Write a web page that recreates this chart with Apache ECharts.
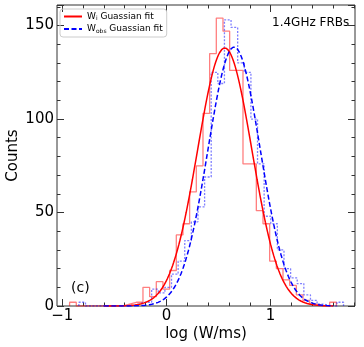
<!DOCTYPE html>
<html>
<head>
<meta charset="utf-8">
<title></title>
<script src="https://cdn.jsdelivr.net/npm/echarts@6/dist/echarts.min.js"></script>
<style>
  html, body { margin: 0; padding: 0; background: #fff; }
  #main { width: 364px; height: 347px; }
</style>
</head>
<body>
<div id="main"></div>
<script>
// W_i histogram: 40 bins of equal width starting at wiStart
var wiStart = -0.929, wiWidth = 0.064;
var wiCounts = [2, 0, 0, 0, 0, 0, 0, 0, 1, 2,
                2, 10, 5, 13, 9, 19, 38, 44, 61, 75,
                103, 135, 154, 147, 126, 126, 76, 76, 51, 44,
                24, 20, 14, 11, 6, 3, 1, 0, 0, 2];
// W_obs histogram
var wobsStart = -0.84, wobsWidth = 0.0635;
var wobsCounts = [2, 0, 0, 0, 0, 0, 0, 0, 1, 2,
                  2, 9, 7, 10, 17, 24, 35, 45, 53, 69,
                  125, 119, 153, 149, 130, 125, 100, 76, 48, 44,
                  30, 20, 15, 12, 6, 3, 1, 0, 0, 2];
// gaussian fit parameters: [amplitude, mean, sigma]
var wiFit = [138, 0.56, 0.26];
var wobsFit = [138.5, 0.65, 0.25];
var fitRange = [-0.6, 1.6];

var xMajorTicks = [-1, 0, 1];
var xMinorTicks = [-1, -0.8, -0.6, -0.4, -0.2, 0, 0.2, 0.4, 0.6, 0.8, 1, 1.2, 1.4, 1.6, 1.8];
var xMin = -1.05, xMax = 1.81;
var yMax = 161;

function stepPoints(start, width, counts) {
    var pts = [[start, 0]];
    for (var i = 0; i < counts.length; i++) {
        pts.push([start + i * width, counts[i]]);
    }
    pts.push([start + counts.length * width, 0]);
    return pts;
}

function fitPoints(p) {
    var pts = [];
    for (var x = fitRange[0]; x <= fitRange[1] + 1e-9; x += 0.01) {
        pts.push([x, p[0] * Math.exp(-(x - p[1]) * (x - p[1]) / (2 * p[2] * p[2]))]);
    }
    return pts;
}

var font = 'DejaVu Sans';
var tickCol = '#333';

function xAxisDef(pos, ticks, len, labels) {
    return {
        type: 'value', min: xMin, max: xMax, position: pos,
        axisLine: { show: false, onZero: false },
        splitLine: { show: false },
        axisTick: { show: true, inside: true, length: len, customValues: ticks,
                    lineStyle: { color: tickCol, width: 1 } },
        axisLabel: labels ? {
            show: true, customValues: ticks, fontSize: 15, fontFamily: font, color: '#000', margin: 3,
            formatter: function (v) { return String(v).replace('-', '\u2212'); }
        } : { show: false }
    };
}

var myChart = echarts.init(document.getElementById('main'));

var xBottom = xAxisDef('bottom', xMajorTicks, 7, true);
xBottom.name = 'log (W/ms)';
xBottom.nameLocation = 'middle';
xBottom.nameGap = 21;
xBottom.nameMoveOverlap = false;
xBottom.nameTextStyle = { fontSize: 15, fontFamily: font, color: '#000' };

var yTicks = {
    type: 'value', min: 0, max: yMax, interval: 50,
    axisLine: { show: false, onZero: false },
    splitLine: { show: false },
    axisTick: { show: true, inside: true, length: 7, lineStyle: { color: tickCol } },
    minorTick: { show: true, splitNumber: 5, length: 3.5, lineStyle: { color: tickCol } }
};

myChart.setOption({
    animation: false,
    backgroundColor: '#fff',
    grid: { left: 57, right: 9, top: 5, bottom: 41, show: true, containLabel: false,
            outerBoundsMode: 'none',
            borderColor: '#333', borderWidth: 1, backgroundColor: 'transparent' },
    legend: {
        data: ['Wi', 'Wobs'],
        orient: 'vertical', left: 60, top: 9,
        borderColor: '#ccc', borderWidth: 1, borderRadius: 3,
        padding: [3, 4, 3, 3], itemGap: 3, itemWidth: 18, itemHeight: 9,
        itemStyle: { opacity: 0 },
        formatter: function (name) {
            return name === 'Wi' ? '{t|W}{s|i}{t| Guassian fit}' : '{t|W}{s|obs}{t| Guassian fit}';
        },
        textStyle: {
            fontFamily: font, fontSize: 9, color: '#000',
            rich: {
                t: { fontFamily: font, fontSize: 9, color: '#000' },
                s: { fontFamily: font, fontSize: 6, color: '#000', verticalAlign: 'bottom', padding: [4, 0, 0, 0] }
            }
        }
    },
    xAxis: [
        xBottom,
        xAxisDef('bottom', xMinorTicks, 3.5, false),
        xAxisDef('top', xMajorTicks, 7, false),
        xAxisDef('top', xMinorTicks, 3.5, false)
    ],
    yAxis: [
        Object.assign({}, yTicks, {
            position: 'left',
            name: 'Counts', nameLocation: 'middle', nameGap: 36, nameMoveOverlap: false,
            nameTextStyle: { fontSize: 15, fontFamily: font, color: '#000' },
            axisLabel: { fontSize: 15, fontFamily: font, color: '#000', margin: 3, showMaxLabel: false }
        }),
        Object.assign({}, yTicks, { position: 'right', axisLabel: { show: false } })
    ],
    graphic: [
        { type: 'text', left: 272, top: 17,
          style: { text: '1.4GHz FRBs', font: '12px "DejaVu Sans"', fill: '#000' } },
        { type: 'text', left: 71, top: 281,
          style: { text: '(c)', font: '14px "DejaVu Sans"', fill: '#000' } }
    ],
    series: [
        {
            name: 'WiHist', type: 'line', step: 'end', symbol: 'none',
            data: stepPoints(wiStart, wiWidth, wiCounts),
            lineStyle: { color: 'rgba(255,0,0,0.5)', width: 1.3 },
            silent: true
        },
        {
            name: 'WobsHist', type: 'line', step: 'end', symbol: 'none',
            data: stepPoints(wobsStart, wobsWidth, wobsCounts),
            lineStyle: { color: 'rgba(0,0,255,0.5)', width: 1.3, type: [2, 1.5] },
            silent: true
        },
        {
            name: 'Wi', type: 'line', symbol: 'none', smooth: false,
            data: fitPoints(wiFit),
            itemStyle: { color: '#ff0000' },
            lineStyle: { color: '#ff0000', width: 1.5 }
        },
        {
            name: 'Wobs', type: 'line', symbol: 'none', smooth: false,
            data: fitPoints(wobsFit),
            itemStyle: { color: '#0000ff' },
            lineStyle: { color: '#0000ff', width: 1.5, type: [5, 2.5] }
        }
    ]
});

window.addEventListener('resize', function () {
    myChart.resize();
});
</script>
</body>
</html>
